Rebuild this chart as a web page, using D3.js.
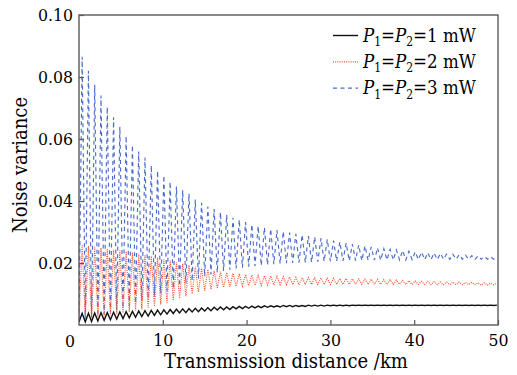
<!DOCTYPE html>
<html>
<head>
<meta charset="utf-8">
<script src="https://cdn.jsdelivr.net/npm/d3@7"></script>
<style>
  html, body { margin: 0; padding: 0; background: #fff; }
  svg { display: block; }
  .serif { font-family: "DejaVu Serif Condensed", "DejaVu Serif", serif; font-stretch: condensed; }
</style>
</head>
<body>
<svg id="chart" width="517" height="375"></svg>
<script>
// ---- data ----
// sample distances in km: alternating troughs / peaks of the oscillation
const distance = [
  0, 0.375, 0.75, 1.125, 1.5, 1.875, 2.25, 2.625,
  3, 3.375, 3.75, 4.125, 4.5, 4.875, 5.25, 5.625,
  6, 6.375, 6.75, 7.125, 7.5, 7.875, 8.25, 8.625,
  9, 9.375, 9.75, 10.125, 10.5, 10.875, 11.25, 11.625,
  12, 12.375, 12.75, 13.125, 13.5, 13.875, 14.25, 14.625,
  15, 15.375, 15.75, 16.125, 16.5, 16.875, 17.25, 17.625,
  18, 18.375, 18.75, 19.125, 19.5, 19.875, 20.25, 20.625,
  21, 21.375, 21.75, 22.125, 22.5, 22.875, 23.25, 23.625,
  24, 24.375, 24.75, 25.125, 25.5, 25.875, 26.25, 26.625,
  27, 27.375, 27.75, 28.125, 28.5, 28.875, 29.25, 29.625,
  30, 30.375, 30.75, 31.125, 31.5, 31.875, 32.25, 32.625,
  33, 33.375, 33.75, 34.125, 34.5, 34.875, 35.25, 35.625,
  36, 36.375, 36.75, 37.125, 37.5, 37.875, 38.25, 38.625,
  39, 39.375, 39.75, 40.125, 40.5, 40.875, 41.25, 41.625,
  42, 42.375, 42.75, 43.125, 43.5, 43.875, 44.25, 44.625,
  45, 45.375, 45.75, 46.125, 46.5, 46.875, 47.25, 47.625,
  48, 48.375, 48.75, 49.125, 49.5, 49.875
];

// P1=P2=1 mW
const noise1mW = [
  0.001, 0.0038, 0.001, 0.0038, 0.0011, 0.0039, 0.0013, 0.004,
  0.0015, 0.004, 0.0017, 0.0041, 0.0019, 0.0042, 0.0021, 0.0043,
  0.0023, 0.0044, 0.0025, 0.0045, 0.0027, 0.0046, 0.0029, 0.0047,
  0.0031, 0.0048, 0.0033, 0.0049, 0.0035, 0.005, 0.0037, 0.0051,
  0.0039, 0.0052, 0.004, 0.0053, 0.0042, 0.0054, 0.0043, 0.0055,
  0.0045, 0.0056, 0.0046, 0.0057, 0.0048, 0.0058, 0.0049, 0.0058,
  0.005, 0.0059, 0.0052, 0.006, 0.0053, 0.006, 0.0054, 0.0061,
  0.0055, 0.0061, 0.0056, 0.0062, 0.0057, 0.0062, 0.0058, 0.0062,
  0.0058, 0.0063, 0.0059, 0.0063, 0.0059, 0.0063, 0.006, 0.0063,
  0.006, 0.0064, 0.0061, 0.0064, 0.0061, 0.0064, 0.0061, 0.0064,
  0.0062, 0.0064, 0.0062, 0.0064, 0.0062, 0.0064, 0.0062, 0.0064,
  0.0063, 0.0064, 0.0063, 0.0064, 0.0063, 0.0064, 0.0063, 0.0064,
  0.0063, 0.0064, 0.0063, 0.0064, 0.0063, 0.0064, 0.0063, 0.0064,
  0.0063, 0.0064, 0.0063, 0.0064, 0.0063, 0.0064, 0.0063, 0.0064,
  0.0063, 0.0064, 0.0063, 0.0064, 0.0063, 0.0064, 0.0063, 0.0064,
  0.0063, 0.0064, 0.0063, 0.0064, 0.0063, 0.0064, 0.0063, 0.0064,
  0.0063, 0.0064, 0.0063, 0.0064, 0.0063, 0.0064
];

// P1=P2=2 mW
const noise2mW = [
  0.0015, 0.0258, 0.002, 0.0255, 0.0022, 0.0252, 0.0025, 0.0249,
  0.0028, 0.0246, 0.0031, 0.0243, 0.0035, 0.024, 0.0039, 0.0237,
  0.0043, 0.0234, 0.0047, 0.023, 0.0051, 0.0226, 0.0055, 0.0222,
  0.006, 0.0218, 0.0066, 0.0213, 0.0072, 0.0208, 0.0079, 0.0203,
  0.0086, 0.0198, 0.0093, 0.0193, 0.01, 0.0188, 0.0106, 0.0183,
  0.0111, 0.0179, 0.0115, 0.0175, 0.0118, 0.0172, 0.0121, 0.0169,
  0.0123, 0.0167, 0.0125, 0.0165, 0.0126, 0.0163, 0.0127, 0.0161,
  0.0128, 0.016, 0.0128, 0.0159, 0.0129, 0.0158, 0.0129, 0.0157,
  0.013, 0.0156, 0.013, 0.0155, 0.013, 0.0154, 0.013, 0.0153,
  0.0131, 0.0153, 0.0131, 0.0152, 0.0131, 0.0152, 0.0131, 0.0151,
  0.0131, 0.0151, 0.0131, 0.015, 0.0131, 0.015, 0.0131, 0.0149,
  0.0131, 0.0149, 0.0131, 0.0148, 0.0131, 0.0148, 0.0131, 0.0147,
  0.0131, 0.0146, 0.0131, 0.0146, 0.0131, 0.0145, 0.0131, 0.0144,
  0.0131, 0.0143, 0.0131, 0.0142, 0.0131, 0.0141, 0.0131, 0.0141,
  0.013, 0.014, 0.013, 0.0139, 0.013, 0.0139, 0.013, 0.0138,
  0.013, 0.0138, 0.013, 0.0137, 0.013, 0.0137, 0.013, 0.0136,
  0.0129, 0.0136, 0.0129, 0.0135, 0.0129, 0.0135
];

// P1=P2=3 mW
const noise3mW = [
  0.0015, 0.0865, 0.002, 0.082, 0.0025, 0.0775, 0.003, 0.074,
  0.0035, 0.0703, 0.004, 0.067, 0.0048, 0.064, 0.0055, 0.061,
  0.0062, 0.058, 0.007, 0.056, 0.0078, 0.054, 0.0086, 0.0515,
  0.0094, 0.0497, 0.0102, 0.0482, 0.011, 0.0462, 0.0118, 0.0447,
  0.0126, 0.0435, 0.0134, 0.0424, 0.0142, 0.0405, 0.015, 0.0394,
  0.0157, 0.0382, 0.0163, 0.0374, 0.0169, 0.0364, 0.0174, 0.0355,
  0.0178, 0.0346, 0.0182, 0.034, 0.0185, 0.0332, 0.0188, 0.0324,
  0.019, 0.0319, 0.0192, 0.0314, 0.0194, 0.031, 0.0196, 0.0306,
  0.0198, 0.0302, 0.0199, 0.0298, 0.02, 0.0294, 0.0201, 0.0291,
  0.0202, 0.0287, 0.0203, 0.0284, 0.0204, 0.028, 0.0205, 0.0276,
  0.0206, 0.0272, 0.0206, 0.0268, 0.0207, 0.0264, 0.0207, 0.0261,
  0.0208, 0.0258, 0.0208, 0.0255, 0.0209, 0.0252, 0.0209, 0.0249,
  0.0209, 0.0246, 0.021, 0.0244, 0.021, 0.0242, 0.021, 0.024,
  0.021, 0.0238, 0.0211, 0.0236, 0.0211, 0.0235, 0.0211, 0.0233,
  0.0211, 0.0232, 0.0211, 0.0231, 0.0212, 0.0229, 0.0212, 0.0228,
  0.0212, 0.0227, 0.0212, 0.0225, 0.0212, 0.0224, 0.0212, 0.0223,
  0.0212, 0.0221, 0.0212, 0.022, 0.0212, 0.0219
];

const xTicks = [10, 20, 30, 40, 50];
const yTicks = [0.02, 0.04, 0.06, 0.08, 0.10];
const legendPower = ["1", "2", "3"];
const xTitle = "Transmission distance /km";
const yTitle = "Noise variance";

// ---- layout ----
const svg = d3.select("#chart");
const mLeft = 79, mRight = 498, mTop = 15, mBottom = 325;

const x = d3.scaleLinear().domain([0, 50]).range([mLeft, mRight]);
const y = d3.scaleLinear().domain([0, 0.10]).range([mBottom, mTop]);

const series = [
  { values: noise3mW, color: "#4a6ccb", width: 1.15, dash: "4,3.5" },
  { values: noise2mW, color: "#ff4b2b", width: 1.15, dash: "1,1.2" },
  { values: noise1mW, color: "#111111", width: 1.4, dash: null }
];

svg.append("clipPath").attr("id", "plotclip")
  .append("rect").attr("x", mLeft).attr("y", mTop)
  .attr("width", mRight - mLeft).attr("height", mBottom - mTop);

const line = d3.line()
  .x((d, i) => x(distance[i]))
  .y(d => y(d))
  .curve(d3.curveLinear);

const plot = svg.append("g").attr("clip-path", "url(#plotclip)");
series.forEach(s => {
  plot.append("path")
    .attr("d", line(s.values))
    .attr("fill", "none")
    .attr("stroke", s.color)
    .attr("stroke-width", s.width)
    .attr("stroke-dasharray", s.dash);
});

// axes
const axisColor = "#5a5a5a";
const xAxis = svg.append("g").attr("class", "serif")
  .attr("transform", `translate(0,${mBottom})`)
  .call(d3.axisBottom(x).tickValues(xTicks).tickSize(-5).tickPadding(9).tickFormat(d3.format("d")));
const yAxis = svg.append("g").attr("class", "serif")
  .attr("transform", `translate(${mLeft},0)`)
  .call(d3.axisLeft(y).tickValues(yTicks).tickSize(-5).tickPadding(6).tickFormat(d3.format(".2f")));

[xAxis, yAxis].forEach(a => {
  a.select(".domain").remove();
  a.selectAll(".tick line").attr("stroke", axisColor).attr("stroke-width", 1.2);
  a.selectAll(".tick text").attr("fill", "#000").style("font-size", "17.5px");
});
xAxis.selectAll(".tick text").attr("dy", "0.71em");

// frame
svg.append("rect")
  .attr("x", mLeft).attr("y", mTop)
  .attr("width", mRight - mLeft).attr("height", mBottom - mTop)
  .attr("fill", "none").attr("stroke", axisColor).attr("stroke-width", 1.4);

// shared origin label
svg.append("text").attr("class", "serif")
  .attr("x", 70).attr("y", 347)
  .attr("text-anchor", "middle")
  .style("font-size", "17.5px").attr("fill", "#000")
  .text("0");

// axis titles
svg.append("text").attr("class", "serif")
  .attr("x", 286).attr("y", 368)
  .attr("text-anchor", "middle")
  .style("font-size", "20px").attr("fill", "#000")
  .text(xTitle);

svg.append("text").attr("class", "serif")
  .attr("transform", "translate(27,165) rotate(-90)")
  .attr("text-anchor", "middle")
  .style("font-size", "20px").attr("fill", "#000")
  .text(yTitle);

// legend
const legendSeries = [series[2], series[1], series[0]];
const lg = svg.append("g").attr("class", "serif");
legendPower.forEach((p, i) => {
  const ly = 35.5 + i * 26.3;
  const s = legendSeries[i];
  lg.append("line")
    .attr("x1", 333).attr("x2", 358).attr("y1", ly).attr("y2", ly)
    .attr("stroke", s.color).attr("stroke-width", s.width)
    .attr("stroke-dasharray", s.dash);
  const t = lg.append("text")
    .attr("x", 363).attr("y", ly + 6)
    .style("font-size", "18.5px").attr("fill", "#000");
  t.append("tspan").style("font-style", "italic").text("P");
  t.append("tspan").attr("dy", 4.5).style("font-size", "12px").text("1");
  t.append("tspan").attr("dy", -4.5).text("=");
  t.append("tspan").style("font-style", "italic").text("P");
  t.append("tspan").attr("dy", 4.5).style("font-size", "12px").text("2");
  t.append("tspan").attr("dy", -4.5).text("=" + p + " mW");
});
</script>
</body>
</html>
